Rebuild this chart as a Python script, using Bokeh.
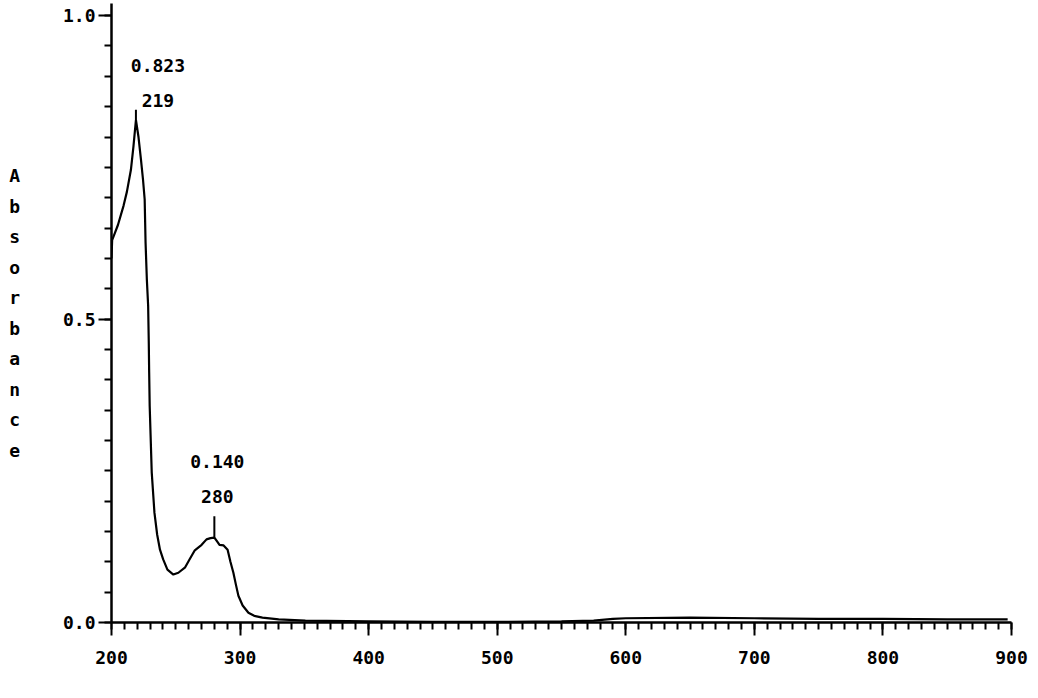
from bokeh.plotting import figure
from bokeh.models import FixedTicker, Label, Range1d
from bokeh.embed import file_html
from bokeh.resources import INLINE

# ---- data ----
wavelength = [200, 200.5, 202.3, 205, 209.4, 212, 215.1, 217.1, 219, 221, 222.9, 224.5,
              225.8, 226.5, 227.5, 228.5, 229.0, 229.3, 229.7, 231.3, 233.4, 235.5, 237.7,
              240.2, 243.5, 248.1, 252, 257.3, 261, 264.8, 270.1, 273.9, 277, 280, 282,
              284, 287.2, 290.3, 292.5, 294.8, 296.8, 298.7, 302, 306.5, 311, 317.4, 330,
              350.8, 400, 450, 500, 550, 575, 590, 600, 650, 700, 750, 800, 850, 897]
absorbance = [0.600, 0.630, 0.640, 0.655, 0.687, 0.710, 0.746, 0.785, 0.828, 0.800, 0.763,
              0.730, 0.697, 0.626, 0.565, 0.522, 0.460, 0.412, 0.357, 0.247, 0.181, 0.145,
              0.120, 0.104, 0.087, 0.079, 0.082, 0.091, 0.105, 0.119, 0.128, 0.137, 0.139,
              0.140, 0.134, 0.128, 0.127, 0.120, 0.100, 0.082, 0.062, 0.044, 0.028, 0.016,
              0.011, 0.008, 0.005, 0.003, 0.002, 0.001, 0.001, 0.002, 0.003, 0.006, 0.007,
              0.008, 0.007, 0.006, 0.006, 0.005, 0.005]

peak_wavelength = [219, 280]
peak_absorbance = [0.823, 0.140]
peak_value_text = ["0.823", "0.140"]
peak_wl_text = ["219", "280"]

x_major_ticks = [200, 300, 400, 500, 600, 700, 800, 900]
y_major_ticks = [0.0, 0.5, 1.0]
y_tick_labels = {0.0: "0.0", 0.5: "0.5", 1.0: "1.0"}
y_axis_title = "Absorbance"

FONT = "DejaVu Sans Mono"
FS = "18px"

p = figure(width=1028, height=682, output_backend="svg", toolbar_location=None,
           x_range=Range1d(200, 900), y_range=Range1d(0, 1.02),
           min_border_left=111, min_border_right=17, min_border_top=3,
           min_border_bottom=60)
p.outline_line_color = None
p.xgrid.grid_line_color = None
p.ygrid.grid_line_color = None
p.background_fill_color = "white"
p.border_fill_color = "white"

p.line(wavelength, absorbance, line_color="black", line_width=2.2)

# peak marker lines and labels
marker_len = [0.017, 0.035]
lab_dx = [22, 3]
val_dy = [55, 76]
wl_dy = [20, 41]
for i in range(len(peak_wavelength)):
    top = absorbance[wavelength.index(peak_wavelength[i])]
    p.segment(x0=[peak_wavelength[i]], y0=[top], x1=[peak_wavelength[i]],
              y1=[top + marker_len[i]], line_color="black", line_width=2)
    for txt, dy in ((peak_value_text[i], val_dy[i]), (peak_wl_text[i], wl_dy[i])):
        p.add_layout(Label(x=peak_wavelength[i], y=top, x_offset=lab_dx[i], y_offset=dy,
                           text=txt, text_font=FONT, text_font_size=FS,
                           text_font_style="bold", text_align="center",
                           text_baseline="middle", text_color="black"))

# axes
for ax in (p.xaxis[0], p.yaxis[0]):
    ax.axis_line_color = "black"
    ax.axis_line_width = 2.5
    ax.major_tick_line_color = "black"
    ax.minor_tick_line_color = "black"
    ax.major_tick_line_width = 2
    ax.minor_tick_line_width = 2
    ax.major_tick_in = 0
    ax.minor_tick_in = 0
    ax.major_tick_out = 13
    ax.minor_tick_out = 7
    ax.major_label_text_font = FONT
    ax.major_label_text_font_size = FS
    ax.major_label_text_font_style = "bold"
    ax.major_label_text_color = "black"

p.xaxis.ticker = FixedTicker(ticks=x_major_ticks,
                             minor_ticks=list(range(200, 901, 10)))
p.xaxis.major_label_standoff = 15
p.yaxis.ticker = FixedTicker(ticks=y_major_ticks,
                             minor_ticks=[round(0.05 * i, 2) for i in range(21)])
p.yaxis.major_label_overrides = y_tick_labels
p.yaxis.major_label_standoff = 3

# vertical stacked axis title (upright letters, one per line)
p.yaxis.axis_label = "\n".join(y_axis_title)
p.yaxis.axis_label_orientation = "horizontal"
p.yaxis.axis_label_text_font = FONT
p.yaxis.axis_label_text_font_size = FS
p.yaxis.axis_label_text_font_style = "bold"
p.yaxis.axis_label_text_color = "black"
p.yaxis.axis_label_text_line_height = 1.45
p.yaxis.axis_label_standoff = 40

open("out.html", "w").write(file_html(p, INLINE))
